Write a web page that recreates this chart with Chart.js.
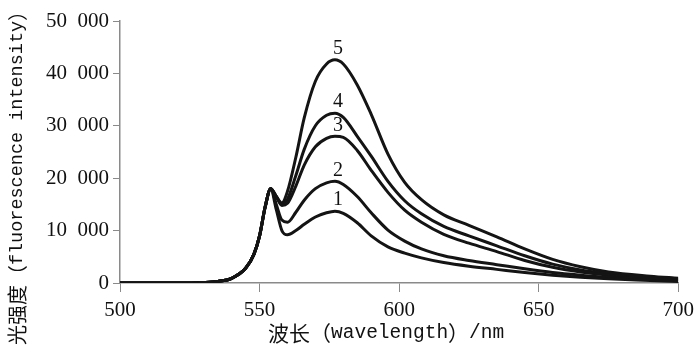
<!DOCTYPE html>
<html lang="zh">
<head>
    <meta charset="UTF-8">
    <title>荧光光谱</title>
    <script src="https://cdn.jsdelivr.net/npm/chart.js"></script>
    <style>
        body {
            margin: 0;
            background: #ffffff;
        }
        #wrap {
            width: 700px;
            height: 348px;
        }
    </style>
</head>
<body>
    <div id="wrap"><canvas id="spectrum"></canvas></div>

    <script>
        // wavelength (nm) sample points
        const wavelength = [500, 520, 530, 535, 540, 545, 548, 550, 552, 554, 556, 558, 560, 563, 566, 570, 574, 577, 580, 585, 590, 596, 602, 608, 616, 625, 635, 645, 655, 665, 675, 690, 700];

        // fluorescence intensity, curves 1..5
        const curve1 = [0, 0, 100, 300, 900, 2800, 5500, 9000, 14500, 18000, 14000, 10000, 9200, 10000, 11200, 12600, 13400, 13700, 13300, 11500, 9000, 6900, 5700, 4800, 3900, 3200, 2600, 2000, 1500, 1100, 800, 500, 300];
        const curve2 = [0, 0, 100, 300, 900, 2800, 5500, 9000, 14500, 18000, 15000, 12000, 11600, 13500, 15800, 18000, 19100, 19400, 18800, 16500, 13400, 10100, 8000, 6500, 5200, 4300, 3500, 2700, 2000, 1500, 1100, 700, 500];
        const curve3 = [0, 0, 100, 300, 900, 2800, 5500, 9000, 14500, 18000, 16500, 14800, 15200, 18500, 22500, 26000, 27600, 28000, 27800, 25300, 21500, 17300, 13900, 11600, 9300, 7600, 6000, 4300, 3000, 2100, 1500, 900, 600];
        const curve4 = [0, 0, 100, 300, 900, 2800, 5500, 9000, 14500, 18000, 16500, 15000, 16000, 20500, 25500, 30000, 32000, 32400, 31600, 28000, 24200, 19400, 15700, 13200, 10800, 9000, 7100, 5200, 3600, 2500, 1800, 1100, 800];
        const curve5 = [0, 0, 100, 300, 900, 2800, 5500, 9000, 14500, 18000, 16500, 15300, 17500, 24000, 31500, 38500, 41800, 42600, 41800, 37800, 32200, 24600, 19200, 15900, 13000, 11000, 8800, 6500, 4500, 3100, 2100, 1300, 900];

        const curveNames = ['1', '2', '3', '4', '5'];
        const curves = [curve1, curve2, curve3, curve4, curve5];

        const xTicks = [500, 550, 600, 650, 700];
        const yTicks = [0, 10000, 20000, 30000, 40000, 50000];

        const xTitle = '波长（wavelength）/nm';
        const yTitle = '光强度（fluorescence intensity）';

        const serifFont = '"Liberation Serif", "DejaVu Serif", serif';

        function groupThousands(v) {
            return String(v).replace(/\B(?=(\d{3})+(?!\d))/g, '\u2007');
        }

        // split a title into CJK / latin runs so each gets its own font, then draw centred
        function drawMixed(ctx, text, cx, cy, cjkSize, latinSize) {
            const cjk = /[\u3000-\u9fff\uff00-\uffef]/;
            const runs = text.match(/[\u3000-\u9fff\uff00-\uffef]+|[^\u3000-\u9fff\uff00-\uffef]+/g);
            const parts = runs.map(r => {
                const font = cjk.test(r)
                    ? cjkSize + 'px "Noto Sans CJK SC", sans-serif'
                    : latinSize + 'px "Liberation Mono", monospace';
                ctx.font = font;
                return { r, font, w: ctx.measureText(r).width };
            });
            const total = parts.reduce((s, p) => s + p.w, 0);
            let x = cx - total / 2;
            ctx.textAlign = 'left';
            ctx.textBaseline = 'middle';
            parts.forEach(p => {
                ctx.font = p.font;
                ctx.fillText(p.r, x, cy);
                x += p.w;
            });
        }

        // numbers 1..5 written just above each curve's main peak (past the 554 nm shoulder)
        const peakLabels = {
            id: 'peakLabels',
            afterDatasetsDraw(chart) {
                const ctx = chart.ctx;
                ctx.save();
                ctx.fillStyle = '#111';
                ctx.font = '20px ' + serifFont;
                ctx.textAlign = 'center';
                ctx.textBaseline = 'middle';
                chart.data.datasets.forEach(ds => {
                    let best = null;
                    ds.data.forEach(p => {
                        if (p.x > 565 && (!best || p.y > best.y)) best = p;
                    });
                    const px = chart.scales.x.getPixelForValue(best.x);
                    const py = chart.scales.y.getPixelForValue(best.y);
                    ctx.fillText(ds.label, px + 3, py - 11);
                });
                ctx.restore();
            }
        };

        // axis titles
        const axisTitles = {
            id: 'axisTitles',
            afterDraw(chart) {
                const ctx = chart.ctx;
                const area = chart.chartArea;
                ctx.save();
                ctx.fillStyle = '#111';
                drawMixed(ctx, xTitle, (area.left + area.right) / 2 - 13, 333, 21, 19.5);
                ctx.translate(17, 173);
                ctx.rotate(-Math.PI / 2);
                drawMixed(ctx, yTitle, 0, 0, 20, 18.5);
                ctx.restore();
            }
        };

        const datasets = curves.map((c, i) => ({
            label: curveNames[i],
            data: wavelength.map((w, j) => ({ x: w, y: c[j] })),
            borderColor: '#141414',
            borderWidth: 3,
            pointRadius: 0,
            fill: false,
            cubicInterpolationMode: 'monotone'
        }));

        new Chart(document.getElementById('spectrum').getContext('2d'), {
            type: 'line',
            data: { datasets: datasets },
            plugins: [peakLabels, axisTitles],
            options: {
                responsive: true,
                maintainAspectRatio: false,
                animation: false,
                layout: { padding: { top: 21, right: 18, left: 0, bottom: 0 } },
                plugins: {
                    legend: { display: false },
                    tooltip: { enabled: false }
                },
                scales: {
                    x: {
                        type: 'linear',
                        min: 500,
                        max: 700,
                        afterBuildTicks: s => { s.ticks = xTicks.map(v => ({ value: v })); },
                        afterFit: s => { s.height = 65; },
                        grid: { drawOnChartArea: false, drawTicks: true, tickLength: 9, color: '#8a8a8a' },
                        border: { display: true, color: '#8a8a8a', width: 1.5 },
                        ticks: {
                            color: '#111',
                            padding: 6,
                            maxRotation: 0,
                            font: { family: serifFont, size: 21 }
                        }
                    },
                    y: {
                        min: 0,
                        max: 50000,
                        afterBuildTicks: s => { s.ticks = yTicks.map(v => ({ value: v })); },
                        afterFit: s => { s.width = 120; },
                        grid: { drawOnChartArea: false, drawTicks: true, tickLength: 7, color: '#8a8a8a' },
                        border: { display: true, color: '#8a8a8a', width: 1.5 },
                        ticks: {
                            color: '#111',
                            padding: 4,
                            callback: v => groupThousands(v),
                            font: { family: serifFont, size: 21 }
                        }
                    }
                }
            }
        });
    </script>
</body>
</html>
